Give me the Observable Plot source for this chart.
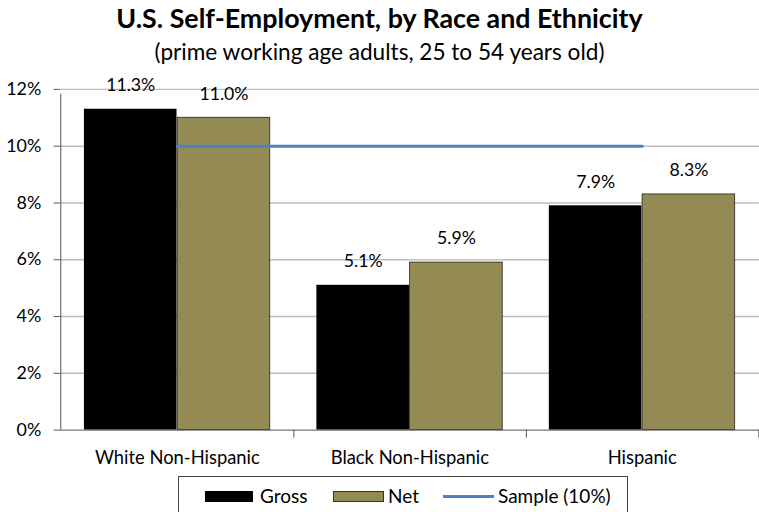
<!DOCTYPE html>
<html><head><meta charset="utf-8">
<script src="https://cdn.jsdelivr.net/npm/d3@7"></script>
<script src="https://cdn.jsdelivr.net/npm/@observablehq/plot@0.6"></script>
<style>
body{margin:0;width:759px;height:512px;overflow:hidden;background:#fff;font-family:Lato,"Open Sans",sans-serif;position:relative;}
#title{position:absolute;top:1px;left:0;width:759px;text-align:center;font-weight:bold;font-size:26.8px;line-height:34px;color:#000;}
#sub{position:absolute;top:38px;left:0;width:759px;text-align:center;font-size:22.6px;line-height:28px;color:#000;}
#chart{position:absolute;top:70px;left:0;}
#legend{position:absolute;top:476px;left:178px;width:450px;height:50px;border:1px solid #444;box-sizing:border-box;font-size:19px;}
.sw{position:absolute;top:14px;height:11px;}
.tx{position:absolute;top:6px;line-height:26px;}
</style></head><body>
<div id="title">U.S. Self-Employment, by Race and Ethnicity</div>
<div id="sub">(prime working age adults, 25 to 54 years old)</div>
<div id="chart"></div>
<div id="legend">
  <span class="sw" style="left:26px;width:48px;background:#000"></span><span class="tx" style="left:81px">Gross</span>
  <span class="sw" style="left:154px;width:51px;background:#948A54;border:1px solid #333;box-sizing:border-box"></span><span class="tx" style="left:209px">Net</span>
  <span class="sw" style="left:264px;width:51px;top:18px;height:3px;background:#4F81BD"></span><span class="tx" style="left:319px">Sample (10%)</span>
</div>
<script>
const categories = ["White Non-Hispanic","Black Non-Hispanic","Hispanic"];
const gross = [11.3, 5.1, 7.9];
const net = [11.0, 5.9, 8.3];
const sample = [10, 10, 10];
const yTicks = [0,2,4,6,8,10,12];

const W = 764, ML = 60, MR = 0;
const step = (W - ML - MR) / categories.length;

const grossData = categories.map((c,i)=>({c, v: gross[i]}));
const netData = categories.map((c,i)=>({c, v: net[i]}));
const sampleData = categories.map((c,i)=>({c, v: sample[i]}));

const chart = Plot.plot({
  width: W, height: 406,
  marginLeft: ML, marginRight: MR, marginTop: 19, marginBottom: 44,
  style: {fontFamily: "Lato, 'Open Sans', sans-serif", fontSize: "18px", color: "#000", background: "transparent"},
  x: {type: "band", domain: categories, padding: 0, label: null},
  y: {domain: [0, 12], label: null},
  marks: [
    Plot.gridY(yTicks.filter(d=>d>0), {stroke: "#bdbdbd", strokeOpacity: 1, strokeWidth: 1.5}),
    Plot.barY(grossData, {x: "c", y: "v", fill: "#000", insetLeft: 0.1*step, insetRight: 0.5*step}),
    Plot.barY(netData, {x: "c", y: "v", fill: "#948A54", stroke: "#222", strokeWidth: 0.8, insetLeft: 0.5*step, insetRight: 0.1*step}),
    Plot.lineY(sampleData, {x: "c", y: "v", stroke: "#4F81BD", strokeWidth: 3}),
    Plot.text(grossData, {x: "c", y: "v", text: d => d.v.toFixed(1)+"%", dx: -0.2*step, dy: -24, fontSize: 17.8}),
    Plot.text(netData, {x: "c", y: "v", text: d => d.v.toFixed(1)+"%", dx: 0.2*step, dy: -24, fontSize: 17.8}),
    Plot.ruleY([0], {stroke: "#555", strokeWidth: 1}),
    Plot.ruleX([categories[0]], {x: d=>d, dx: -step/2, y1: 0, y2: 12, insetBottom: -5, stroke: "#555"}),
    Plot.ruleX(categories, {x: d=>d, dx: step/2, y1: 0, y2: 0, insetBottom: -8, stroke: "#555"}),
    Plot.axisY({ticks: yTicks, tickFormat: d => d + "%", tickSize: 6, tickPadding: 13, stroke: "#555", fontSize: 18}),
    Plot.axisX({tickSize: 0, tickPadding: 21, fontSize: 18.5})
  ]
});
document.getElementById("chart").appendChild(chart);
</script>
</body></html>
